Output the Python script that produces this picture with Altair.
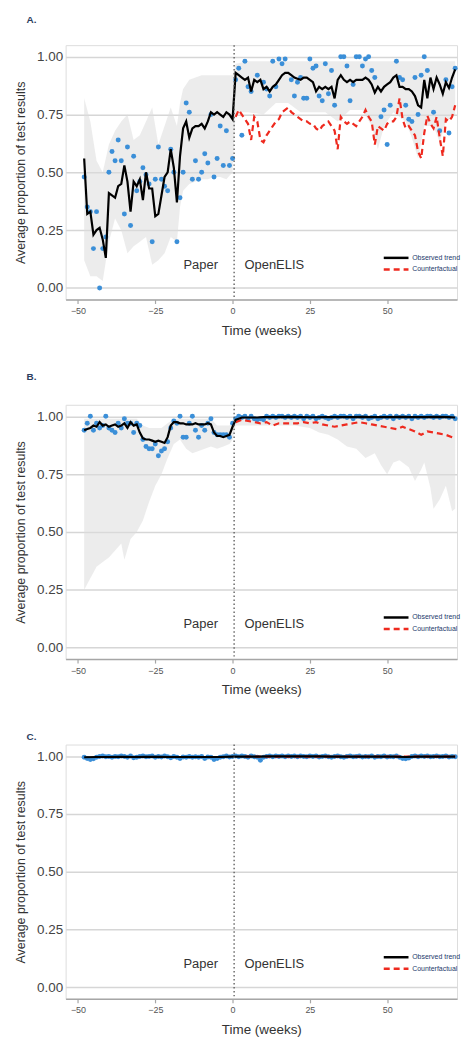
import altair as alt
import pandas as pd

# ---------------- data ----------------
PRE_WEEKS = list(range(-48, 1))
POST_WEEKS = list(range(1, 73))

# Panel A
A_pt_weeks = PRE_WEEKS + [1,2,3,4,5,6,8,10,11,12,13,14,15,16,17,19,20,21,22,23,24,25,26,27,28,29,30,31,32,33,35,36,37,38,39,40,41,42,43,44,45,46,48,49,50,51,53,54,55,56,57,58,59,60,61,62,63,65,67,69,70,71,72]
A_pt_vals = [0.48,0.35,0.33,0.17,0.33,0.00,0.17,0.22,0.50,0.59,0.55,0.64,0.55,0.32,0.61,0.27,0.57,0.42,0.46,0.52,
             0.49,0.45,0.20,0.47,0.61,0.47,0.44,0.42,0.60,0.50,0.20,0.39,0.50,0.80,0.76,0.47,0.55,0.47,0.50,0.58,
             0.54,0.75,0.48,0.56,0.70,0.53,0.68,0.53,0.56,
             0.90,0.95,0.66,0.98,0.87,0.85,0.92,0.89,0.86,0.83,0.98,0.87,0.99,0.97,0.99,0.90,0.83,0.89,0.91,0.82,
             0.82,0.99,0.95,0.96,0.83,0.81,0.97,0.84,0.94,0.79,1.00,1.00,0.96,0.81,0.88,1.00,1.00,0.96,0.99,1.00,
             0.94,0.91,0.74,0.77,0.62,0.79,0.98,0.91,0.90,0.79,0.73,0.72,0.91,0.75,0.92,1.00,0.94,0.76,0.68,0.90,
             0.67,0.87,0.95]
A_trend_weeks = PRE_WEEKS + POST_WEEKS
A_trend_vals = [0.56,0.32,0.33,0.23,0.25,0.26,0.21,0.13,0.41,0.40,0.39,0.44,0.45,0.53,0.46,0.33,0.46,0.44,0.47,0.38,
                0.50,0.43,0.43,0.31,0.32,0.40,0.48,0.50,0.60,0.52,0.37,0.57,0.69,0.72,0.65,0.69,0.70,0.70,0.71,0.69,
                0.72,0.76,0.75,0.76,0.75,0.74,0.76,0.75,0.73,
                0.93,0.92,0.91,0.90,0.91,0.85,0.90,0.89,0.90,0.86,0.87,0.85,0.87,0.88,0.90,0.92,0.93,0.93,0.92,0.91,
                0.905,0.90,0.91,0.91,0.90,0.89,0.85,0.87,0.86,0.87,0.86,0.87,0.82,0.90,0.92,0.90,0.89,0.90,0.89,0.90,
                0.90,0.90,0.91,0.90,0.88,0.845,0.87,0.85,0.87,0.88,0.89,0.91,0.92,0.87,0.87,0.86,0.86,0.85,0.83,0.79,
                0.78,0.90,0.82,0.91,0.86,0.91,0.88,0.84,0.89,0.865,0.91,0.945]
A_cf_weeks = POST_WEEKS
A_cf_vals = [0.74,0.77,0.75,0.73,0.71,0.64,0.74,0.72,0.64,0.63,0.66,0.68,0.70,0.72,0.73,0.76,0.77,0.78,0.76,0.75,
             0.74,0.73,0.72,0.72,0.71,0.71,0.69,0.68,0.70,0.71,0.72,0.70,0.68,0.60,0.74,0.72,0.71,0.72,0.71,0.70,
             0.72,0.74,0.77,0.74,0.72,0.62,0.70,0.69,0.68,0.71,0.72,0.72,0.74,0.82,0.73,0.69,0.70,0.68,0.66,0.59,
             0.56,0.67,0.745,0.71,0.69,0.74,0.65,0.57,0.73,0.72,0.74,0.79]
A_band_weeks = [-48,-46,-44,-42,-40,-38,-36,-34,-32,-30,-28,-26,-24,-22,-20,-18,-17,-16,-14,-12,-10,-8,-6,-4,-2,0,
                1,5,10,14,18,22,26,30,34,38,42,45,47,49,52,56,58,60,62,65,67,69,72]
A_band_lo = [0.12,0.05,0.05,0.03,0.20,0.30,0.25,0.15,0.18,0.20,0.22,0.10,0.12,0.15,0.22,0.20,0.35,0.42,0.45,0.46,
             0.47,0.47,0.48,0.48,0.47,0.50,
             0.76,0.76,0.75,0.80,0.80,0.76,0.76,0.76,0.72,0.77,0.77,0.70,0.60,0.70,0.76,0.72,0.65,0.56,0.70,0.70,
             0.63,0.72,0.75]
A_band_hi = [0.82,0.72,0.55,0.50,0.62,0.68,0.72,0.75,0.64,0.66,0.72,0.78,0.62,0.70,0.78,0.70,0.80,0.86,0.90,0.91,
             0.92,0.92,0.92,0.92,0.92,0.92,
             0.97,0.98,0.98,0.98,0.98,0.98,0.98,0.98,0.98,0.98,0.98,0.98,0.98,0.98,0.98,0.98,0.98,0.98,0.98,0.98,
             0.98,0.98,0.98]

# Panel B
B_pt_weeks = PRE_WEEKS + POST_WEEKS
B_pt_vals = [0.94,0.97,1.00,0.94,0.97,0.95,0.96,1.00,0.95,0.94,0.93,0.97,0.95,0.99,0.97,0.97,0.93,0.97,0.96,0.90,
             0.87,0.86,0.86,0.88,0.83,0.85,0.86,0.89,0.95,0.98,0.97,1.00,0.91,0.91,0.97,1.00,0.94,0.91,0.96,0.94,
             0.97,0.99,0.93,0.92,0.92,0.92,0.92,0.91,0.97,
             0.99,1.00,0.995,1.00,0.99,1.00,0.99,0.985,0.99,0.985,1.00,0.995,1.00,0.995,1.00,1.00,0.995,1.00,0.995,1.00,
             0.995,1.00,0.99,1.00,0.995,1.00,0.99,0.995,1.00,0.995,0.99,0.995,1.00,0.995,1.00,1.00,0.995,1.00,0.99,1.00,
             1.00,0.995,1.00,0.99,0.995,1.00,0.99,0.995,1.00,0.995,1.00,0.99,1.00,0.995,1.00,0.995,1.00,0.99,1.00,0.995,
             1.00,0.995,1.00,1.00,0.995,1.00,0.995,1.00,1.00,0.995,1.00,0.99]
B_trend_weeks = PRE_WEEKS + [1,2,3,4,6,8,10,14,18,22,26,30,34,38,42,46,50,54,58,62,66,70,72]
B_trend_vals = [0.94,0.945,0.95,0.96,0.955,0.975,0.96,0.965,0.955,0.96,0.965,0.955,0.96,0.97,0.95,0.975,0.96,0.965,0.93,0.905,
                0.90,0.90,0.895,0.89,0.895,0.89,0.885,0.91,0.96,0.975,0.975,0.97,0.97,0.965,0.965,0.965,0.97,0.965,0.965,0.965,
                0.97,0.965,0.93,0.915,0.915,0.91,0.915,0.92,0.955,
                0.985,0.99,0.995,0.995,0.995,0.995,0.997,0.997,0.998,0.997,0.996,0.997,0.997,0.997,0.998,0.997,0.997,0.998,
                0.997,0.997,0.998,0.997,0.995]
B_cf_weeks = [1,3,5,7,9,11,13,15,17,19,21,23,25,27,29,31,33,35,37,39,41,43,45,47,49,51,53,55,57,59,61,63,65,67,69,71,72]
B_cf_vals = [0.975,0.985,0.98,0.975,0.97,0.975,0.96,0.97,0.97,0.97,0.97,0.975,0.97,0.975,0.965,0.96,0.955,0.96,0.965,0.97,
             0.975,0.97,0.965,0.96,0.955,0.95,0.945,0.955,0.945,0.935,0.92,0.935,0.93,0.925,0.92,0.91,0.905]
B_band_weeks = [-48,-46,-44,-42,-40,-38,-36,-35,-33,-31,-29,-27,-25,-23,-21,-19,-17,-15,-13,-11,-9,-7,-5,-3,-1,0,
                1,10,20,25,28,31,34,37,40,43,46,48,50,52,54,57,59,61,62,64,65,67,69,71,72]
B_band_lo = [0.25,0.30,0.35,0.37,0.39,0.42,0.45,0.38,0.47,0.50,0.55,0.63,0.70,0.75,0.82,0.88,0.90,0.86,0.84,0.85,
             0.86,0.87,0.86,0.87,0.88,0.90,
             0.96,0.96,0.96,0.95,0.93,0.92,0.90,0.87,0.86,0.82,0.84,0.79,0.75,0.80,0.81,0.78,0.72,0.77,0.80,0.69,
             0.60,0.64,0.70,0.59,0.60]
B_band_hi = [0.99,0.99,0.99,0.99,0.99,0.99,0.99,0.99,0.99,0.99,0.96,0.95,0.95,0.95,0.97,0.99,0.99,0.99,0.99,0.99,
             0.99,0.99,0.96,0.96,0.96,0.98,
             1.00,1.00,1.00,1.00,1.00,1.00,1.00,1.00,1.00,1.00,1.00,1.00,1.00,1.00,1.00,1.00,1.00,1.00,1.00,1.00,
             1.00,1.00,1.00,1.00,1.00]

# Panel C
C_pt_weeks = PRE_WEEKS + POST_WEEKS
C_pt_vals = [0.995,0.99,0.985,0.988,0.995,0.998,1.00,0.997,0.998,0.995,0.998,0.997,1.00,0.998,0.995,1.00,0.993,0.995,0.998,1.00,
             0.997,0.998,1.00,0.995,0.998,0.996,1.00,0.997,0.993,0.998,0.995,0.99,0.996,0.995,0.998,0.995,0.997,0.995,0.998,0.99,
             0.996,0.995,0.985,0.99,0.995,0.997,1.00,0.996,0.998,
             1.00,0.997,1.00,0.998,0.995,1.00,0.997,0.995,0.982,0.995,0.998,1.00,0.997,1.00,0.998,1.00,0.997,1.00,0.998,1.00,
             0.997,1.00,0.998,0.997,1.00,0.998,1.00,0.996,0.998,1.00,0.997,0.995,0.998,1.00,0.997,0.995,0.998,1.00,0.997,0.998,
             1.00,0.996,0.998,0.997,1.00,0.995,0.998,0.997,1.00,0.996,0.998,0.997,1.00,0.995,0.99,0.988,0.992,0.998,1.00,0.997,
             1.00,0.998,1.00,0.997,0.998,1.00,0.997,0.998,1.00,0.996,0.998,0.997]
C_trend_weeks = [-48,-44,-40,-36,-32,-28,-24,-20,-16,-12,-8,-4,0,4,8,12,16,20,24,28,32,36,40,44,48,52,56,60,64,68,72]
C_trend_vals = [0.995,0.996,0.996,0.997,0.996,0.997,0.997,0.996,0.996,0.996,0.996,0.996,0.998,0.998,0.998,0.999,0.999,
                0.999,0.999,0.999,0.998,0.998,0.998,0.998,0.998,0.998,0.996,0.998,0.998,0.998,0.998]
C_cf_weeks = [4, 36, 72]
C_cf_vals = [0.998, 0.998, 0.998]
C_band_weeks = [-48, 0, 1, 72]
C_band_lo = [0.99, 0.99, 0.995, 0.995]
C_band_hi = [1.00, 1.00, 1.00, 1.00]

SERIES = ["Observed trend", "Counterfactual"]
TREND_COLOR, CF_COLOR = "#000000", "#ee2a1f"
CF_DASH = [6, 4]
ANNOT_WEEKS = [-10.3, 13.5]
ANNOT_VALS = [0.10, 0.10]
ANNOT_TEXT = ["Paper", "OpenELIS"]
INTERVENTION_WEEK = [0.5]
# in-plot key: week span of the swatches, week where the labels start, value of each row
KEY_W0, KEY_W1, KEY_TEXT_W = 48.9, 56.9, 58.1
KEY_VALS = [0.13, 0.08]

FONT = "Liberation Sans"
XDOM = [-54, 72.6]
YDOM = [-0.05, 1.05]
W, H = 394, 256


def panel(label, pw, pv, tw, tv, cw, cv, bw, blo, bhi, toff):
    pts = pd.DataFrame({"week": pw, "value": pv})
    trend = pd.DataFrame({"week": tw, "value": tv})
    cf = pd.DataFrame({"week": cw, "value": cv})
    band = pd.DataFrame({"week": bw, "lo": blo, "hi": bhi})
    ann = pd.DataFrame({"week": ANNOT_WEEKS, "value": ANNOT_VALS, "text": ANNOT_TEXT})
    vline = pd.DataFrame({"week": INTERVENTION_WEEK})
    key = pd.DataFrame({"w0": [KEY_W0] * 2, "w1": [KEY_W1] * 2, "wt": [KEY_TEXT_W] * 2,
                        "value": KEY_VALS, "series": SERIES})

    x = alt.X("week:Q", scale=alt.Scale(domain=XDOM, nice=False, zero=False),
              axis=alt.Axis(values=[-50, -25, 0, 25, 50], title="Time (weeks)", grid=False,
                            labelFontSize=9, labelColor="#555555", domainColor="#a6a6a6", domainWidth=1.5,
                            tickColor="#a6a6a6", tickSize=4, tickWidth=1.2, labelPadding=3,
                            titleFontSize=13.5, titleFontWeight="normal", titleColor="#333333",
                            titlePadding=8, labelFont=FONT, titleFont=FONT))
    y = alt.Y("value:Q", scale=alt.Scale(domain=YDOM, nice=False, zero=False),
              axis=alt.Axis(values=[0, 0.25, 0.5, 0.75, 1.0], format=".2f",
                            title="Average proportion of test results",
                            domain=False, ticks=False, grid=True, gridColor="#d6d6d6", gridWidth=1.5,
                            labelFontSize=13.5, labelColor="#444444", labelPadding=3,
                            titleFontSize=12.5, titleFontWeight="normal", titleColor="#333333",
                            titlePadding=9, labelFont=FONT, titleFont=FONT))

    band_l = alt.Chart(band).mark_area(color="#dcdcdc", opacity=0.55).encode(
        x=alt.X("week:Q"), y=alt.Y("lo:Q"), y2="hi:Q")
    pts_l = alt.Chart(pts).mark_circle(size=25, color="#3b8fd8", opacity=1).encode(x=x, y=y)
    cf_l = alt.Chart(cf).mark_line(strokeWidth=2.2, color=CF_COLOR, strokeDash=CF_DASH).encode(
        x="week:Q", y="value:Q", order="week:Q")
    trend_l = alt.Chart(trend).mark_line(strokeWidth=2.2, color=TREND_COLOR).encode(
        x="week:Q", y="value:Q", order="week:Q")
    rule_l = alt.Chart(vline).mark_rule(color="#555555", strokeDash=[1.5, 2.5], strokeWidth=1.3).encode(x="week:Q")
    text_l = alt.Chart(ann).mark_text(fontSize=13, color="#333333", font=FONT).encode(
        x="week:Q", y="value:Q", text="text:N")
    key_trend = alt.Chart(key).transform_filter(alt.datum.series == SERIES[0]).mark_rule(
        strokeWidth=2.5, color=TREND_COLOR).encode(x="w0:Q", x2="w1:Q", y="value:Q")
    key_cf = alt.Chart(key).transform_filter(alt.datum.series == SERIES[1]).mark_rule(
        strokeWidth=2.5, color=CF_COLOR, strokeDash=CF_DASH).encode(x="w0:Q", x2="w1:Q", y="value:Q")
    keyt_l = alt.Chart(key).mark_text(fontSize=7, color="#23396b", font=FONT, align="left",
                                      baseline="middle").encode(x="wt:Q", y="value:Q", text="series:N")

    return alt.layer(band_l, pts_l, cf_l, trend_l, rule_l, text_l, key_trend, key_cf, keyt_l).properties(
        width=W, height=H,
        title=alt.TitleParams(label, anchor="start", fontSize=10, fontWeight="bold", color="#2d3e5e",
                              font=FONT, offset=toff, dx=12),
    )


pA = panel("A.", A_pt_weeks, A_pt_vals, A_trend_weeks, A_trend_vals, A_cf_weeks, A_cf_vals,
           A_band_weeks, A_band_lo, A_band_hi, 20)
pB = panel("B.", B_pt_weeks, B_pt_vals, B_trend_weeks, B_trend_vals, B_cf_weeks, B_cf_vals,
           B_band_weeks, B_band_lo, B_band_hi, 22)
pC = panel("C.", C_pt_weeks, C_pt_vals, C_trend_weeks, C_trend_vals, C_cf_weeks, C_cf_vals,
           C_band_weeks, C_band_lo, C_band_hi, 2)

chart = alt.vconcat(pA, pB, pC, spacing=34).properties(
    padding={"left": 6, "top": 2, "right": 0, "bottom": 0}
).configure_view(stroke=None).configure(background="white")

chart.save("out.html", embed_options={"renderer": "svg", "actions": False})
